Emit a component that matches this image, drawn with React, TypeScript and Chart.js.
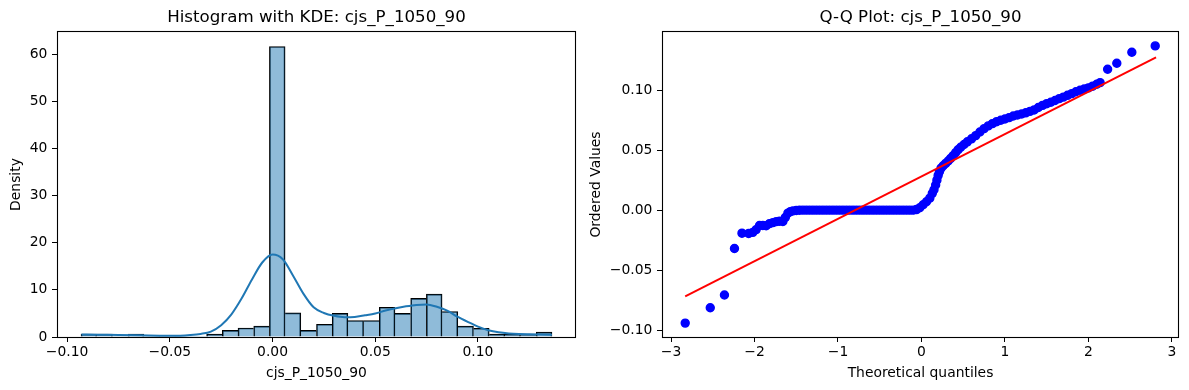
import React, { useEffect, useRef } from "react";
import { Chart, registerables } from "chart.js";

Chart.register(...registerables);

const FONT = "'DejaVu Sans', 'Liberation Sans', sans-serif";

// ---- Histogram (left) ----
const histBinCenters = [
  -0.08938, -0.08174, -0.0741, -0.06646, -0.05882, -0.05118, -0.04354, -0.0359, -0.02826, -0.02062,
  -0.01298, -0.00534, 0.0023, 0.00994, 0.01758, 0.02522, 0.03286, 0.0405, 0.04814, 0.05578,
  0.06342, 0.07106, 0.0787, 0.08634, 0.09398, 0.10162, 0.10926, 0.1169, 0.12454, 0.13218,
];
const histDensity = [
  0.6, 0.6, 0, 0.6, 0, 0, 0, 0, 0.62, 1.4,
  1.9, 2.3, 61.6, 5.1, 1.4, 2.7, 5.0, 3.5, 3.5, 6.3,
  5.0, 8.2, 9.1, 5.4, 2.3, 1.85, 0.6, 0.6, 0.6, 1.05,
];
const kdeX = [
  -0.093, -0.085, -0.075, -0.065, -0.055, -0.05, -0.045, -0.04, -0.035, -0.03,
  -0.025, -0.02, -0.015, -0.01, -0.005, 0.0, 0.005, 0.01, 0.015, 0.02,
  0.025, 0.03, 0.035, 0.04, 0.045, 0.05, 0.055, 0.06, 0.065, 0.07,
  0.075, 0.08, 0.085, 0.09, 0.095, 0.1, 0.105, 0.11, 0.115, 0.12,
  0.125, 0.13, 0.136,
];
const kdeY = [
  0.55, 0.5, 0.45, 0.38, 0.28, 0.25, 0.27, 0.4, 0.65, 1.15,
  2.5, 4.8, 8.2, 12.2, 15.8, 17.5, 16.5, 13.0, 9.2, 6.3,
  5.1, 4.5, 4.2, 4.25, 4.6, 5.0, 5.6, 6.1, 6.5, 6.8,
  6.9, 6.4, 5.6, 4.3, 3.2, 2.2, 1.45, 1.0, 0.75, 0.62,
  0.56, 0.52, 0.48,
];
const histXTicks = [-0.1, -0.05, 0, 0.05, 0.1];
const histXTickLabels = ["\u22120.10", "\u22120.05", "0.00", "0.05", "0.10"];
const histYTicks = [0, 10, 20, 30, 40, 50, 60];
const histYTickLabels = ["0", "10", "20", "30", "40", "50", "60"];

// ---- Q-Q plot (right) ----
const qqTheoretical = [
  -2.83, -2.53, -2.36, -2.24, -2.15, -2.07, -2.02, -1.98, -1.94, -1.9,
  -1.86, -1.82, -1.78, -1.74, -1.7, -1.66, -1.63, -1.6, -1.57, -1.54,
  -1.5, -1.46,
  -1.42, -1.38, -1.34, -1.3, -1.26, -1.22, -1.18, -1.14, -1.1, -1.06,
  -1.02, -0.98, -0.94, -0.9, -0.86, -0.82, -0.78, -0.74, -0.7, -0.66,
  -0.62, -0.58, -0.54, -0.5, -0.46, -0.42, -0.38, -0.34, -0.3, -0.26,
  -0.22, -0.18, -0.14, -0.1,
  -0.06, -0.02, 0.02, 0.06, 0.1, 0.13, 0.15, 0.17, 0.185, 0.2,
  0.215, 0.235, 0.26, 0.29, 0.32, 0.35, 0.38, 0.41, 0.44, 0.47,
  0.51, 0.55, 0.6, 0.65, 0.7, 0.75, 0.8, 0.85, 0.9, 0.95,
  1.0, 1.05, 1.1, 1.15, 1.2, 1.25, 1.3, 1.35, 1.4, 1.45,
  1.5, 1.55, 1.6, 1.65, 1.7, 1.75, 1.8, 1.85, 1.9, 1.95,
  2.0, 2.05, 2.1, 2.14, 2.23, 2.34, 2.52, 2.8,
];
const qqOrdered = [
  -0.0942, -0.0814, -0.0708, -0.032, -0.0192, -0.0195, -0.0185, -0.0162, -0.0128, -0.0128,
  -0.013, -0.0112, -0.0104, -0.0096, -0.0092, -0.0094, -0.006, -0.0025, -0.0012, -0.0006,
  -0.0003, -0.0001,
  0, 0, 0, 0, 0, 0, 0, 0, 0, 0,
  0, 0, 0, 0, 0, 0, 0, 0, 0, 0,
  0, 0, 0, 0, 0, 0, 0, 0, 0, 0,
  0, 0, 0, 0,
  0.0005, 0.002, 0.0045, 0.007, 0.01, 0.014, 0.017, 0.021, 0.025, 0.029,
  0.032, 0.035, 0.037, 0.039, 0.041, 0.0432, 0.0455, 0.048, 0.0505, 0.0525,
  0.0548, 0.057, 0.0595, 0.0622, 0.0652, 0.068, 0.0703, 0.0722, 0.0738, 0.075,
  0.076, 0.0772, 0.0785, 0.0794, 0.0802, 0.0812, 0.0824, 0.0836, 0.0856, 0.0874,
  0.0888, 0.09, 0.0915, 0.093, 0.0943, 0.0958, 0.0972, 0.0988, 0.1, 0.101,
  0.102, 0.1034, 0.105, 0.1064, 0.1175, 0.1225, 0.1317, 0.137,
];
const qqLineX = [-2.83, 2.81];
const qqLineY = [-0.072, 0.1275];
const qqXTicks = [-3, -2, -1, 0, 1, 2, 3];
const qqXTickLabels = ["\u22123", "\u22122", "\u22121", "0", "1", "2", "3"];
const qqYTicks = [-0.1, -0.05, 0, 0.05, 0.1];
const qqYTickLabels = ["\u22120.10", "\u22120.05", "0.00", "0.05", "0.10"];

const TICK_SIZE = 13.89;
const TITLE_SIZE = 16.67;

const framePlugin = {
  id: "frame",
  afterDatasetsDraw(chart: any) {
    const { ctx, chartArea } = chart;
    const { left, top, right, bottom } = chartArea;
    ctx.save();
    ctx.strokeStyle = "#000";
    ctx.lineWidth = 1.1;
    ctx.strokeRect(left + 0.5, top - 0.5, right - left - 1, bottom - top + 1);
    ctx.restore();
  },
};

function makeScale(opts: {
  min: number;
  max: number;
  ticks: number[];
  labels: string[];
  title: string;
  axis: "x" | "y";
  size: number;
  titlePad: any;
}) {
  return {
    type: "linear",
    min: opts.min,
    max: opts.max,
    offset: false,
    afterBuildTicks: (s: any) => {
      s.ticks = opts.ticks.map((v) => ({ value: v }));
    },
    afterFit: (s: any) => {
      if (opts.axis === "x") s.height = opts.size;
      else s.width = opts.size;
    },
    grid: {
      display: true,
      drawOnChartArea: false,
      drawTicks: true,
      tickLength: 5,
      color: "#000",
      lineWidth: 1,
      offset: false,
    },
    border: { display: false },
    ticks: {
      autoSkip: false,
      maxRotation: 0,
      minRotation: 0,
      padding: opts.axis === "x" ? 2 : 4.7,
      color: "#000",
      font: { family: FONT, size: TICK_SIZE },
      callback: (_v: any, i: number) => opts.labels[i],
    },
    title: {
      display: true,
      text: opts.title,
      color: "#000",
      font: { family: FONT, size: TICK_SIZE },
      padding: opts.titlePad,
    },
  };
}

function titleOpts(text: string) {
  return {
    display: true,
    text,
    color: "#000",
    fullSize: false,
    font: { family: FONT, size: TITLE_SIZE, weight: "normal" },
    padding: { top: 7.6, bottom: 4.4 },
  };
}

export default function App() {
  const leftRef = useRef<HTMLCanvasElement>(null);
  const rightRef = useRef<HTMLCanvasElement>(null);

  useEffect(() => {
    const histBars = histBinCenters.map((x, i) => ({ x, y: histDensity[i] }));
    const kdePts = kdeX.map((x, i) => ({ x, y: kdeY[i] }));

    const left = new Chart(leftRef.current as HTMLCanvasElement, {
      type: "bar",
      data: {
        datasets: [
          {
            type: "line",
            data: kdePts,
            borderColor: "#1f77b4",
            borderWidth: 2,
            pointRadius: 0,
            cubicInterpolationMode: "monotone",
            fill: false,
            order: 0,
          } as any,
          {
            type: "bar",
            data: histBars,
            backgroundColor: "rgba(31,119,180,0.5)",
            borderColor: "#000",
            borderSkipped: "start",
            borderWidth: (ctx: any) => {
              const i = ctx.dataIndex;
              const h = histDensity[i];
              const prev = i > 0 ? histDensity[i - 1] : 0;
              const next = i < histDensity.length - 1 ? histDensity[i + 1] : 0;
              if (!h) return 0;
              return { top: 1, bottom: 0, left: h > prev ? 1 : 0, right: h >= next ? 1 : 0 };
            },
            categoryPercentage: 1,
            barPercentage: 1,
            order: 1,
          } as any,
        ],
      },
      options: {
        responsive: false,
        animation: false,
        events: [],
        devicePixelRatio: 1,
        layout: { padding: { left: 0, right: 4, top: 0, bottom: 0 } },
        plugins: {
          legend: { display: false },
          tooltip: { enabled: false },
          title: titleOpts("Histogram with KDE: cjs_P_1050_90") as any,
        },
        scales: {
          x: makeScale({
            min: -0.1049,
            max: 0.1477,
            ticks: histXTicks,
            labels: histXTickLabels,
            title: "cjs_P_1050_90",
            axis: "x",
            size: 53,
            titlePad: { top: 0, bottom: 8.7 },
          }) as any,
          y: makeScale({
            min: 0,
            max: 64.68,
            ticks: histYTicks,
            labels: histYTickLabels,
            title: "Density",
            axis: "y",
            size: 57,
            titlePad: { top: 8.2, bottom: 0 },
          }) as any,
        },
      },
      plugins: [framePlugin],
    });

    const qqPts = qqTheoretical.map((x, i) => ({ x, y: qqOrdered[i] }));
    const linePts = qqLineX.map((x, i) => ({ x, y: qqLineY[i] }));

    const right = new Chart(rightRef.current as HTMLCanvasElement, {
      type: "scatter",
      data: {
        datasets: [
          {
            data: linePts,
            showLine: true,
            borderColor: "#ff0000",
            borderWidth: 2,
            pointRadius: 0,
            order: 0,
          } as any,
          {
            data: qqPts,
            showLine: false,
            backgroundColor: "#0000ff",
            borderColor: "#0000ff",
            pointRadius: 4,
            pointBorderWidth: 1.4,
            order: 1,
          } as any,
        ],
      },
      options: {
        responsive: false,
        animation: false,
        events: [],
        devicePixelRatio: 1,
        layout: { padding: { left: 0, right: 10, top: 0, bottom: 0 } },
        plugins: {
          legend: { display: false },
          tooltip: { enabled: false },
          title: titleOpts("Q-Q Plot: cjs_P_1050_90") as any,
        },
        scales: {
          x: makeScale({
            min: -3.108,
            max: 3.085,
            ticks: qqXTicks,
            labels: qqXTickLabels,
            title: "Theoretical quantiles",
            axis: "x",
            size: 53,
            titlePad: { top: 0, bottom: 8.7 },
          }) as any,
          y: makeScale({
            min: -0.1058,
            max: 0.1486,
            ticks: qqYTicks,
            labels: qqYTickLabels,
            title: "Ordered Values",
            axis: "y",
            size: 82,
            titlePad: { top: 8.2, bottom: 0 },
          }) as any,
        },
      },
      plugins: [framePlugin],
    });

    return () => {
      left.destroy();
      right.destroy();
    };
  }, []);

  return (
    <div
      style={{
        position: "fixed",
        left: 0,
        top: 0,
        width: 1189,
        height: 390,
        background: "#fff",
        overflow: "hidden",
      }}
    >
      <canvas
        ref={leftRef}
        width={580}
        height={390}
        style={{ position: "absolute", left: 0, top: 0, width: 580, height: 390 }}
      />
      <canvas
        ref={rightRef}
        width={609}
        height={390}
        style={{ position: "absolute", left: 580, top: 0, width: 609, height: 390 }}
      />
    </div>
  );
}
